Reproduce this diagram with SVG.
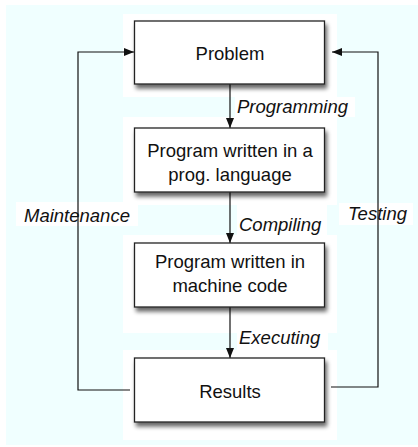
<svg xmlns="http://www.w3.org/2000/svg" width="418" height="447" viewBox="0 0 418 447">
  <style>
    .box { fill: #ffffff; stroke: #222222; stroke-width: 1.3; }
    .halo { fill: #ffffff; }
    .node-text { font-family: "Liberation Sans", Arial, sans-serif; font-size: 18.5px; fill: #111111; text-anchor: middle; }
    .edge-label { font-family: "Liberation Sans", Arial, sans-serif; font-size: 18.5px; font-style: italic; fill: #111111; }
    .edge { fill: none; stroke: #111111; stroke-width: 1.2; }
  </style>
  <defs>
    <filter id="shadow" x="-10%" y="-20%" width="125%" height="150%">
      <feGaussianBlur in="SourceAlpha" stdDeviation="2.2"/>
      <feOffset dx="2" dy="4" result="blur"/>
      <feComponentTransfer><feFuncA type="linear" slope="0.6"/></feComponentTransfer>
      <feMerge><feMergeNode/><feMergeNode in="SourceGraphic"/></feMerge>
    </filter>
    <marker id="arrow" viewBox="0 0 10 8" refX="10" refY="4" markerWidth="10" markerHeight="8" markerUnits="userSpaceOnUse" orient="auto">
      <path d="M0,0 L10,4 L0,8 Z" fill="#111111"/>
    </marker>
  </defs>

  <!-- page background -->
  <rect x="6" y="5" width="412" height="440" fill="#f0ffff"/>

  <!-- white clearings behind nodes and labels -->
  <g id="halos">
    <rect class="halo" x="123" y="14" width="214" height="83"/>
    <rect class="halo" x="235" y="97" width="120" height="20"/>
    <rect class="halo" x="123" y="117" width="214" height="88"/>
    <rect class="halo" x="237" y="205" width="90" height="30"/>
    <rect class="halo" x="123" y="235" width="214" height="98"/>
    <rect class="halo" x="237" y="333" width="91" height="17"/>
    <rect class="halo" x="123" y="350" width="214" height="90"/>
    <rect class="halo" x="16" y="202" width="122" height="24"/>
    <rect class="halo" x="339" y="203" width="74" height="22"/>
  </g>

  <g id="connectors">
    <line class="edge" x1="230" y1="84" x2="230" y2="128" marker-end="url(#arrow)"/>
    <line class="edge" x1="230" y1="192" x2="230" y2="243" marker-end="url(#arrow)"/>
    <line class="edge" x1="230" y1="307" x2="230" y2="358" marker-end="url(#arrow)"/>
    <polyline class="edge" points="130,390 78,390 78,52 134,52" marker-end="url(#arrow)"/>
    <polyline class="edge" points="331,387 378,387 378,52 332,52" marker-end="url(#arrow)"/>
    <text class="edge-label" x="237" y="113">Programming</text>
    <text class="edge-label" x="239" y="231">Compiling</text>
    <text class="edge-label" x="239" y="344">Executing</text>
    <text class="edge-label" x="24" y="222">Maintenance</text>
    <text class="edge-label" x="348" y="220">Testing</text>
  </g>

  <g id="problem">
    <rect class="box" x="134.5" y="21" width="190" height="63" filter="url(#shadow)"/>
    <text class="node-text" x="230" y="60">Problem</text>
  </g>

  <g id="source-program">
    <rect class="box" x="134.5" y="128" width="190" height="64" filter="url(#shadow)"/>
    <text class="node-text" x="230" y="157">Program written in a</text>
    <text class="node-text" x="230" y="181">prog. language</text>
  </g>

  <g id="machine-program">
    <rect class="box" x="134.5" y="243" width="190" height="64" filter="url(#shadow)"/>
    <text class="node-text" x="230" y="268">Program written in</text>
    <text class="node-text" x="230" y="292">machine code</text>
  </g>

  <g id="results">
    <rect class="box" x="134.5" y="358" width="190" height="64" filter="url(#shadow)"/>
    <text class="node-text" x="230" y="398">Results</text>
  </g>
</svg>
